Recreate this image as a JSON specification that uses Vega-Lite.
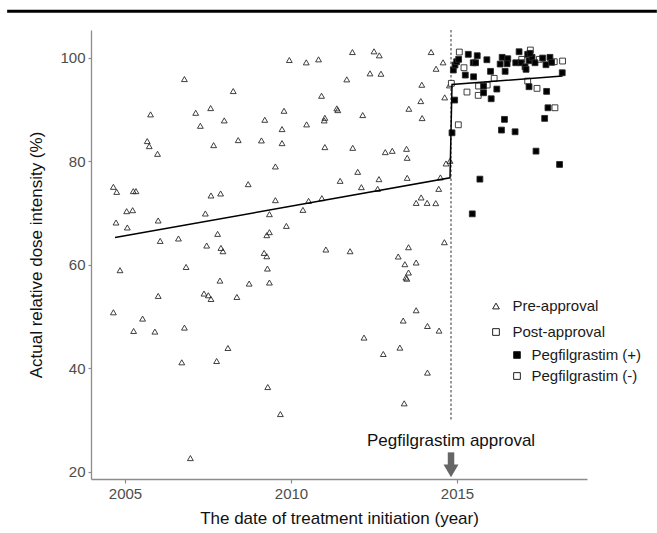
{
  "$schema": "https://vega.github.io/schema/vega-lite/v6.json",
  "width": 496,
  "height": 449,
  "autosize": {"type": "none"},
  "padding": {"left": 91, "top": 30, "right": 70, "bottom": 54},
  "background": "white",
  "config": {
    "font": "Liberation Sans",
    "view": {"stroke": null},
    "axis": {
      "grid": false,
      "domainColor": "#8c8c8c",
      "domainWidth": 1.3,
      "tickColor": "#8c8c8c",
      "tickWidth": 1.2,
      "tickSize": 4,
      "labelFontSize": 15,
      "labelColor": "#4d4d4d",
      "labelPadding": 3,
      "titleFontSize": 17,
      "titleFontWeight": "normal",
      "titleColor": "#111111"
    },
    "axisX": {"titlePadding": 9},
    "axisY": {"titlePadding": 14, "tickSize": 3},
    "legend": {"labelFontSize": 15, "labelColor": "#1a1a1a", "padding": 0}
  },
  "datasets": {
    "pts": [
      {"t":2004.65,"v":75.05,"s":"pre","f":"na"},
      {"t":2004.75,"v":74.08,"s":"pre","f":"na"},
      {"t":2004.73,"v":68.16,"s":"pre","f":"na"},
      {"t":2005.07,"v":67.2,"s":"pre","f":"na"},
      {"t":2005.05,"v":70.35,"s":"pre","f":"na"},
      {"t":2005.23,"v":70.54,"s":"pre","f":"na"},
      {"t":2005.25,"v":74.22,"s":"pre","f":"na"},
      {"t":2005.33,"v":74.22,"s":"pre","f":"na"},
      {"t":2005.67,"v":83.89,"s":"pre","f":"na"},
      {"t":2005.73,"v":82.92,"s":"pre","f":"na"},
      {"t":2005.77,"v":89.05,"s":"pre","f":"na"},
      {"t":2005.98,"v":81.43,"s":"pre","f":"na"},
      {"t":2006.0,"v":68.55,"s":"pre","f":"na"},
      {"t":2006.06,"v":64.6,"s":"pre","f":"na"},
      {"t":2006.61,"v":65.07,"s":"pre","f":"na"},
      {"t":2006.79,"v":95.88,"s":"pre","f":"na"},
      {"t":2007.13,"v":89.36,"s":"pre","f":"na"},
      {"t":2007.27,"v":86.85,"s":"pre","f":"na"},
      {"t":2007.42,"v":69.9,"s":"pre","f":"na"},
      {"t":2007.46,"v":63.71,"s":"pre","f":"na"},
      {"t":2007.58,"v":90.27,"s":"pre","f":"na"},
      {"t":2007.67,"v":83.11,"s":"pre","f":"na"},
      {"t":2007.59,"v":73.38,"s":"pre","f":"na"},
      {"t":2007.88,"v":73.77,"s":"pre","f":"na"},
      {"t":2007.79,"v":65.96,"s":"pre","f":"na"},
      {"t":2007.89,"v":63.25,"s":"pre","f":"na"},
      {"t":2007.95,"v":62.61,"s":"pre","f":"na"},
      {"t":2007.99,"v":87.89,"s":"pre","f":"na"},
      {"t":2008.26,"v":93.56,"s":"pre","f":"na"},
      {"t":2008.41,"v":84.08,"s":"pre","f":"na"},
      {"t":2008.71,"v":75.57,"s":"pre","f":"na"},
      {"t":2009.11,"v":84.02,"s":"pre","f":"na"},
      {"t":2009.21,"v":88.01,"s":"pre","f":"na"},
      {"t":2009.73,"v":86.21,"s":"pre","f":"na"},
      {"t":2009.73,"v":83.5,"s":"pre","f":"na"},
      {"t":2009.53,"v":78.99,"s":"pre","f":"na"},
      {"t":2009.53,"v":72.48,"s":"pre","f":"na"},
      {"t":2009.35,"v":69.77,"s":"pre","f":"na"},
      {"t":2009.35,"v":66.29,"s":"pre","f":"na"},
      {"t":2009.27,"v":65.71,"s":"pre","f":"na"},
      {"t":2009.19,"v":62.28,"s":"pre","f":"na"},
      {"t":2009.27,"v":61.64,"s":"pre","f":"na"},
      {"t":2009.79,"v":89.75,"s":"pre","f":"na"},
      {"t":2009.86,"v":67.5,"s":"pre","f":"na"},
      {"t":2009.95,"v":99.56,"s":"pre","f":"na"},
      {"t":2010.46,"v":99.11,"s":"pre","f":"na"},
      {"t":2010.47,"v":87.12,"s":"pre","f":"na"},
      {"t":2010.53,"v":72.34,"s":"pre","f":"na"},
      {"t":2010.36,"v":70.6,"s":"pre","f":"na"},
      {"t":2010.83,"v":99.69,"s":"pre","f":"na"},
      {"t":2010.92,"v":92.65,"s":"pre","f":"na"},
      {"t":2011.02,"v":88.39,"s":"pre","f":"na"},
      {"t":2011.0,"v":87.89,"s":"pre","f":"na"},
      {"t":2011.02,"v":82.73,"s":"pre","f":"na"},
      {"t":2010.93,"v":72.86,"s":"pre","f":"na"},
      {"t":2011.05,"v":62.94,"s":"pre","f":"na"},
      {"t":2011.38,"v":90.21,"s":"pre","f":"na"},
      {"t":2011.41,"v":89.88,"s":"pre","f":"na"},
      {"t":2011.48,"v":76.21,"s":"pre","f":"na"},
      {"t":2011.68,"v":95.82,"s":"pre","f":"na"},
      {"t":2011.85,"v":101.1,"s":"pre","f":"na"},
      {"t":2011.86,"v":82.59,"s":"pre","f":"na"},
      {"t":2011.78,"v":62.61,"s":"pre","f":"na"},
      {"t":2012.01,"v":77.95,"s":"pre","f":"na"},
      {"t":2012.5,"v":101.24,"s":"pre","f":"na"},
      {"t":2012.66,"v":100.46,"s":"pre","f":"na"},
      {"t":2012.38,"v":96.98,"s":"pre","f":"na"},
      {"t":2012.71,"v":96.91,"s":"pre","f":"na"},
      {"t":2014.22,"v":101.1,"s":"pre","f":"na"},
      {"t":2014.58,"v":99.11,"s":"pre","f":"na"},
      {"t":2014.37,"v":97.87,"s":"pre","f":"na"},
      {"t":2013.94,"v":94.78,"s":"pre","f":"na"},
      {"t":2013.91,"v":91.62,"s":"pre","f":"na"},
      {"t":2013.55,"v":90.14,"s":"pre","f":"na"},
      {"t":2013.95,"v":88.34,"s":"pre","f":"na"},
      {"t":2012.16,"v":88.92,"s":"pre","f":"na"},
      {"t":2012.84,"v":81.76,"s":"pre","f":"na"},
      {"t":2013.05,"v":82.01,"s":"pre","f":"na"},
      {"t":2013.48,"v":82.4,"s":"pre","f":"na"},
      {"t":2013.5,"v":80.66,"s":"pre","f":"na"},
      {"t":2014.63,"v":92.34,"s":"pre","f":"na"},
      {"t":2014.77,"v":94.66,"s":"pre","f":"na"},
      {"t":2014.67,"v":79.57,"s":"pre","f":"na"},
      {"t":2014.79,"v":80.08,"s":"pre","f":"na"},
      {"t":2012.65,"v":76.54,"s":"pre","f":"na"},
      {"t":2013.5,"v":76.79,"s":"pre","f":"na"},
      {"t":2014.5,"v":76.87,"s":"pre","f":"na"},
      {"t":2012.12,"v":74.99,"s":"pre","f":"na"},
      {"t":2012.61,"v":74.66,"s":"pre","f":"na"},
      {"t":2014.45,"v":74.66,"s":"pre","f":"na"},
      {"t":2013.92,"v":73.0,"s":"pre","f":"na"},
      {"t":2013.77,"v":71.95,"s":"pre","f":"na"},
      {"t":2014.1,"v":71.95,"s":"pre","f":"na"},
      {"t":2014.36,"v":71.9,"s":"pre","f":"na"},
      {"t":2014.62,"v":64.35,"s":"pre","f":"na"},
      {"t":2013.54,"v":63.38,"s":"pre","f":"na"},
      {"t":2013.23,"v":61.59,"s":"pre","f":"na"},
      {"t":2013.43,"v":60.1,"s":"pre","f":"na"},
      {"t":2013.77,"v":60.43,"s":"pre","f":"na"},
      {"t":2013.54,"v":58.49,"s":"pre","f":"na"},
      {"t":2013.46,"v":57.52,"s":"pre","f":"na"},
      {"t":2013.49,"v":57.3,"s":"pre","f":"na"},
      {"t":2013.77,"v":51.2,"s":"pre","f":"na"},
      {"t":2013.38,"v":49.21,"s":"pre","f":"na"},
      {"t":2014.11,"v":48.16,"s":"pre","f":"na"},
      {"t":2014.46,"v":47.27,"s":"pre","f":"na"},
      {"t":2012.2,"v":45.92,"s":"pre","f":"na"},
      {"t":2013.28,"v":43.98,"s":"pre","f":"na"},
      {"t":2012.78,"v":42.75,"s":"pre","f":"na"},
      {"t":2014.11,"v":39.15,"s":"pre","f":"na"},
      {"t":2013.41,"v":33.21,"s":"pre","f":"na"},
      {"t":2004.85,"v":58.94,"s":"pre","f":"na"},
      {"t":2006.84,"v":59.57,"s":"pre","f":"na"},
      {"t":2009.29,"v":59.26,"s":"pre","f":"na"},
      {"t":2004.65,"v":50.81,"s":"pre","f":"na"},
      {"t":2006.0,"v":53.97,"s":"pre","f":"na"},
      {"t":2005.53,"v":49.59,"s":"pre","f":"na"},
      {"t":2005.26,"v":47.2,"s":"pre","f":"na"},
      {"t":2005.9,"v":47.08,"s":"pre","f":"na"},
      {"t":2006.79,"v":47.85,"s":"pre","f":"na"},
      {"t":2006.71,"v":41.14,"s":"pre","f":"na"},
      {"t":2007.38,"v":54.43,"s":"pre","f":"na"},
      {"t":2007.51,"v":54.1,"s":"pre","f":"na"},
      {"t":2007.59,"v":53.38,"s":"pre","f":"na"},
      {"t":2007.86,"v":56.94,"s":"pre","f":"na"},
      {"t":2007.76,"v":41.39,"s":"pre","f":"na"},
      {"t":2008.1,"v":43.91,"s":"pre","f":"na"},
      {"t":2008.37,"v":53.77,"s":"pre","f":"na"},
      {"t":2008.74,"v":56.36,"s":"pre","f":"na"},
      {"t":2009.35,"v":56.56,"s":"pre","f":"na"},
      {"t":2009.3,"v":36.36,"s":"pre","f":"na"},
      {"t":2009.68,"v":31.14,"s":"pre","f":"na"},
      {"t":2006.97,"v":22.63,"s":"pre","f":"na"},
      {"t":2015.07,"v":101.1,"s":"post","f":"neg"},
      {"t":2015.21,"v":98.07,"s":"post","f":"neg"},
      {"t":2014.83,"v":95.05,"s":"post","f":"neg"},
      {"t":2015.3,"v":93.37,"s":"post","f":"neg"},
      {"t":2015.64,"v":92.73,"s":"post","f":"neg"},
      {"t":2015.65,"v":94.53,"s":"post","f":"neg"},
      {"t":2015.91,"v":94.72,"s":"post","f":"neg"},
      {"t":2016.12,"v":96.02,"s":"post","f":"neg"},
      {"t":2015.04,"v":87.04,"s":"post","f":"neg"},
      {"t":2017.21,"v":101.49,"s":"post","f":"neg"},
      {"t":2016.95,"v":99.69,"s":"post","f":"neg"},
      {"t":2017.48,"v":99.69,"s":"post","f":"neg"},
      {"t":2017.93,"v":99.23,"s":"post","f":"neg"},
      {"t":2018.18,"v":99.36,"s":"post","f":"neg"},
      {"t":2017.13,"v":95.49,"s":"post","f":"neg"},
      {"t":2017.41,"v":94.08,"s":"post","f":"neg"},
      {"t":2017.95,"v":90.33,"s":"post","f":"neg"},
      {"t":2014.89,"v":97.62,"s":"post","f":"pos"},
      {"t":2014.94,"v":98.59,"s":"post","f":"pos"},
      {"t":2014.99,"v":99.23,"s":"post","f":"pos"},
      {"t":2015.05,"v":99.69,"s":"post","f":"pos"},
      {"t":2015.34,"v":100.66,"s":"post","f":"pos"},
      {"t":2015.61,"v":100.39,"s":"post","f":"pos"},
      {"t":2015.49,"v":99.03,"s":"post","f":"pos"},
      {"t":2015.56,"v":99.03,"s":"post","f":"pos"},
      {"t":2015.9,"v":99.61,"s":"post","f":"pos"},
      {"t":2016.01,"v":97.37,"s":"post","f":"pos"},
      {"t":2015.25,"v":96.65,"s":"post","f":"pos"},
      {"t":2015.5,"v":96.32,"s":"post","f":"pos"},
      {"t":2015.8,"v":94.53,"s":"post","f":"pos"},
      {"t":2015.8,"v":93.23,"s":"post","f":"pos"},
      {"t":2016.03,"v":92.07,"s":"post","f":"pos"},
      {"t":2016.2,"v":93.95,"s":"post","f":"pos"},
      {"t":2014.93,"v":91.82,"s":"post","f":"pos"},
      {"t":2014.85,"v":85.49,"s":"post","f":"pos"},
      {"t":2016.36,"v":100.08,"s":"post","f":"pos"},
      {"t":2016.3,"v":98.78,"s":"post","f":"pos"},
      {"t":2016.45,"v":97.37,"s":"post","f":"pos"},
      {"t":2016.53,"v":99.81,"s":"post","f":"pos"},
      {"t":2016.51,"v":98.84,"s":"post","f":"pos"},
      {"t":2016.77,"v":99.03,"s":"post","f":"pos"},
      {"t":2016.87,"v":101.16,"s":"post","f":"pos"},
      {"t":2016.93,"v":99.03,"s":"post","f":"pos"},
      {"t":2017.05,"v":98.26,"s":"post","f":"pos"},
      {"t":2017.08,"v":97.76,"s":"post","f":"pos"},
      {"t":2017.13,"v":100.66,"s":"post","f":"pos"},
      {"t":2017.17,"v":99.42,"s":"post","f":"pos"},
      {"t":2017.26,"v":100.08,"s":"post","f":"pos"},
      {"t":2017.2,"v":100.85,"s":"post","f":"pos"},
      {"t":2017.35,"v":99.03,"s":"post","f":"pos"},
      {"t":2017.58,"v":99.94,"s":"post","f":"pos"},
      {"t":2017.68,"v":98.65,"s":"post","f":"pos"},
      {"t":2017.8,"v":100.08,"s":"post","f":"pos"},
      {"t":2017.85,"v":99.11,"s":"post","f":"pos"},
      {"t":2018.17,"v":97.1,"s":"post","f":"pos"},
      {"t":2017.17,"v":94.4,"s":"post","f":"pos"},
      {"t":2017.7,"v":93.5,"s":"post","f":"pos"},
      {"t":2017.74,"v":90.33,"s":"post","f":"pos"},
      {"t":2017.64,"v":88.28,"s":"post","f":"pos"},
      {"t":2016.43,"v":88.09,"s":"post","f":"pos"},
      {"t":2016.34,"v":86.02,"s":"post","f":"pos"},
      {"t":2016.75,"v":85.69,"s":"post","f":"pos"},
      {"t":2017.38,"v":81.95,"s":"post","f":"pos"},
      {"t":2018.09,"v":79.38,"s":"post","f":"pos"},
      {"t":2015.69,"v":76.54,"s":"post","f":"pos"},
      {"t":2015.46,"v":69.83,"s":"post","f":"pos"}
    ],
    "fit": [
      {"t":2004.7,"v":65.26},
      {"t":2014.79,"v":76.79},
      {"t":2014.85,"v":94.85},
      {"t":2018.18,"v":96.46}
    ],
    "ann": [
      {"date":2014.82,"label":"Pegfilgrastim approval"}
    ]
  },
  "layer": [
    {
      "data": {"name": "ann"},
      "mark": {"type": "rule", "strokeWidth": 3, "color": "#000000"},
      "encoding": {
        "x": {"datum": 2001.45, "type": "quantitative", "title": "The date of treatment initiation (year)",
              "scale": {"domain": [2003.976, 2018.916], "nice": false, "zero": false},
              "axis": {"values": [2005, 2010, 2015], "format": "d"}},
        "x2": {"datum": 2021.02},
        "y": {"datum": 109.0, "type": "quantitative", "title": "Actual relative dose intensity (%)",
              "scale": {"domain": [18.59, 105.36], "nice": false, "zero": false},
              "axis": {"values": [20, 40, 60, 80, 100]}}
      }
    },
    {
      "data": {"name": "ann"},
      "mark": {"type": "rule", "strokeDash": [2.5, 2], "color": "#333333", "strokeWidth": 1},
      "encoding": {
        "x": {"field": "date", "type": "quantitative", "title": "The date of treatment initiation (year)"},
        "y": {"datum": 105.36, "type": "quantitative", "title": "Actual relative dose intensity (%)"},
        "y2": {"datum": 29.9}
      }
    },
    {
      "data": {"name": "pts"},
      "mark": {"type": "point", "filled": true, "stroke": "#2a2a2a", "strokeWidth": 0.9, "size": 34, "opacity": 1},
      "encoding": {
        "x": {"field": "t", "type": "quantitative", "title": "The date of treatment initiation (year)"},
        "y": {"field": "v", "type": "quantitative", "title": "Actual relative dose intensity (%)"},
        "shape": {
          "field": "s", "type": "nominal",
          "scale": {"domain": ["pre", "post"], "range": ["triangle-up", "square"]},
          "legend": {
            "orient": "none", "legendX": 397.5, "legendY": 268.5, "title": null,
            "labelExpr": "datum.value === 'pre' ? 'Pre-approval' : 'Post-approval'",
            "symbolFillColor": "white", "symbolStrokeColor": "#222222", "symbolStrokeWidth": 1,
            "symbolSize": 45, "rowPadding": 10, "labelOffset": 9, "labelFontSize": 15
          }
        },
        "fill": {
          "field": "f", "type": "nominal",
          "scale": {"domain": ["pos", "neg", "na"], "range": ["#000000", "#ffffff", "transparent"]},
          "legend": {
            "orient": "none", "legendX": 418.5, "legendY": 317.5, "title": null,
            "values": ["pos", "neg"], "symbolType": "square",
            "labelExpr": "datum.value === 'pos' ? 'Pegfilgrastim (+)' : 'Pegfilgrastim (-)'",
            "symbolStrokeColor": "#222222", "symbolStrokeWidth": 1,
            "symbolSize": 45, "rowPadding": 5, "labelOffset": 7, "labelFontSize": 15
          }
        }
      }
    },
    {
      "data": {"name": "fit"},
      "mark": {"type": "line", "color": "#000000", "strokeWidth": 1.5},
      "encoding": {
        "x": {"field": "t", "type": "quantitative", "title": "The date of treatment initiation (year)"},
        "y": {"field": "v", "type": "quantitative", "title": "Actual relative dose intensity (%)"}
      }
    },
    {
      "data": {"name": "ann"},
      "mark": {"type": "text", "fontSize": 17, "color": "#111111", "align": "center", "baseline": "alphabetic"},
      "encoding": {
        "x": {"field": "date", "type": "quantitative", "title": "The date of treatment initiation (year)"},
        "y": {"datum": 25.0, "type": "quantitative", "title": "Actual relative dose intensity (%)"},
        "text": {"field": "label"}
      }
    },
    {
      "data": {"name": "ann"},
      "mark": {"type": "rule", "strokeWidth": 6.5, "color": "#666666"},
      "encoding": {
        "x": {"field": "date", "type": "quantitative", "title": "The date of treatment initiation (year)"},
        "y": {"datum": 23.74, "type": "quantitative", "title": "Actual relative dose intensity (%)"},
        "y2": {"datum": 21.2}
      }
    },
    {
      "data": {"name": "ann"},
      "mark": {"type": "point", "shape": "triangle-down", "filled": true, "color": "#666666", "size": 225, "opacity": 1},
      "encoding": {
        "x": {"field": "date", "type": "quantitative", "title": "The date of treatment initiation (year)"},
        "y": {"datum": 20.16, "type": "quantitative", "title": "Actual relative dose intensity (%)"}
      }
    }
  ]
}
